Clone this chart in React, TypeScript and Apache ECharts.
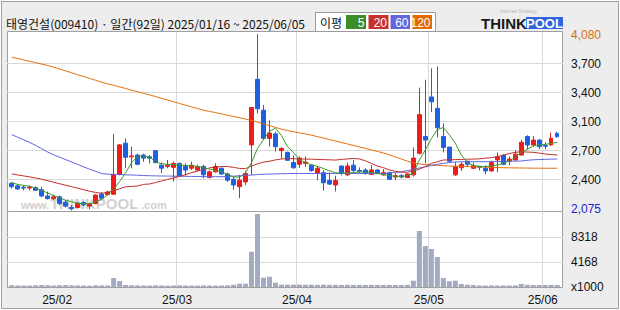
import { useEffect, useRef } from "react";
import * as echarts from "echarts";

// ---------- data ----------
const TITLE = "태영건설(009410) · 일간(92일) 2025/01/16 ~ 2025/06/05";
const LEGEND_TITLE = "이평";
const MA_PERIODS = ["5", "20", "60", "120"];
const YEAR = "2025";
const DAYS_JAN = [16, 17, 20, 21, 22, 23, 24, 31];
const DAYS_FEB = [3, 4, 5, 6, 7, 10, 11, 12, 13, 14, 17, 18, 19, 20, 21, 24, 25, 26, 27, 28];
const DAYS_MAR = [4, 5, 6, 7, 10, 11, 12, 13, 14, 17, 18, 19, 20, 21, 24, 25, 26, 27, 28, 31];
const DAYS_APR = [1, 2, 3, 4, 7, 8, 9, 10, 11, 14, 15, 16, 17, 18, 21, 22, 23, 24, 25, 28, 29, 30];
const DAYS_MAY = [2, 7, 8, 9, 12, 13, 14, 15, 16, 19, 20, 21, 22, 23, 26, 27, 28, 29, 30];
const DAYS_JUN = [2, 4, 5];

const OPEN = [
  2385, 2355, 2340, 2330, 2335, 2310, 2240, 2210, 2230, 2170,
  2110, 2110, 2165, 2125, 2155, 2260, 2255, 2260, 2485, 2840,
  2685, 2705, 2705, 2685, 2755, 2590, 2575, 2565, 2610, 2580,
  2555, 2535, 2575, 2450, 2515, 2555, 2490, 2430, 2345, 2400,
  2820, 3565, 3215, 2895, 2945, 2755, 2735, 2620, 2600, 2610,
  2590, 2505, 2505, 2415, 2365, 2580, 2480, 2590, 2530, 2535,
  2485, 2535, 2480, 2505, 2455, 2470, 2450, 2480, 2725, 2915,
  3365, 3235, 2915, 2795, 2480, 2560, 2635, 2555, 2575, 2555,
  2525, 2650, 2700, 2635, 2650, 2705, 2915, 2820, 2875, 2815,
  2820, 2950,
];
const CLOSE = [
  2345, 2320, 2330, 2340, 2305, 2240, 2210, 2230, 2155, 2125,
  2095, 2155, 2140, 2150, 2250, 2215, 2285, 2485, 2820, 2680,
  2695, 2600, 2670, 2670, 2620, 2555, 2590, 2610, 2470, 2535,
  2590, 2575, 2480, 2515, 2575, 2490, 2420, 2365, 2420, 2495,
  3245, 3230, 2895, 2955, 2800, 2780, 2645, 2560, 2670, 2625,
  2530, 2555, 2390, 2375, 2415, 2495, 2580, 2530, 2520, 2500,
  2535, 2505, 2505, 2430, 2470, 2455, 2490, 2670, 3165, 2875,
  3310, 3015, 2790, 2635, 2575, 2600, 2600, 2585, 2565, 2525,
  2620, 2685, 2600, 2660, 2715, 2850, 2820, 2875, 2800, 2805,
  2895, 2915,
];
const LOW = [
  2325, 2310, 2305, 2305, 2300, 2225, 2200, 2195, 2135, 2110,
  2075, 2100, 2125, 2090, 2145, 2195, 2250, 2255, 2475, 2560,
  2555, 2590, 2630, 2610, 2610, 2500, 2555, 2405, 2465, 2470,
  2535, 2520, 2440, 2440, 2505, 2480, 2400, 2310, 2215, 2365,
  2480, 3180, 2880, 2800, 2745, 2660, 2640, 2550, 2560, 2570,
  2515, 2420, 2300, 2365, 2290, 2475, 2465, 2510, 2500, 2480,
  2480, 2490, 2470, 2420, 2420, 2440, 2445, 2460, 2710, 2610,
  3195, 2905, 2735, 2620, 2465, 2525, 2570, 2545, 2530, 2490,
  2515, 2510, 2590, 2590, 2640, 2700, 2770, 2800, 2770, 2770,
  2810, 2900,
];
const HIGH = [
  2395, 2370, 2360, 2360, 2350, 2345, 2290, 2255, 2245, 2195,
  2135, 2170, 2180, 2160, 2260, 2285, 2300, 2945, 2830, 2895,
  2800, 2720, 2720, 2705, 2760, 2620, 2650, 2630, 2620, 2610,
  2630, 2595, 2595, 2530, 2610, 2565, 2505, 2460, 2480, 2525,
  3250, 4080, 3275, 3100, 2970, 2795, 2745, 2700, 2690, 2690,
  2600, 2580, 2535, 2510, 2470, 2585, 2620, 2650, 2565, 2555,
  2590, 2545, 2545, 2515, 2500, 2490, 2495, 2790, 3470, 3560,
  3690, 3710, 3065, 2800, 2625, 2625, 2640, 2620, 2580, 2590,
  2640, 2735, 2715, 2690, 2760, 2880, 2930, 2920, 2885, 2850,
  2960, 2970,
];
// volume, thousands of shares
const VOLUME = [
  300, 260, 250, 240, 280, 330, 290, 250, 300, 320,
  280, 260, 240, 230, 290, 260, 250, 1500, 1000, 330,
  290, 270, 260, 250, 280, 260, 240, 250, 270, 250,
  240, 230, 260, 250, 240, 260, 280, 380, 550, 550,
  5870, 12150, 1550, 1710, 715, 380, 380, 380, 400, 370,
  380, 360, 390, 370, 360, 350, 370, 360, 340, 350,
  360, 340, 330, 350, 340, 330, 360, 1050, 9320, 6820,
  6320, 4990, 1500, 950, 1050, 500, 380, 330, 260, 250,
  270, 260, 250, 260, 270, 500, 380, 330, 320, 330,
  340, 330,
];
const MA5 = [
  2393, 2371, 2360, 2350, 2330, 2302, 2274, 2245, 2218, 2192,
  2175, 2158, 2153, 2150, 2173, 2202, 2253, 2317, 2404, 2502,
  2619, 2688, 2694, 2683, 2626, 2605, 2600, 2596, 2592, 2587,
  2583, 2575, 2561, 2546, 2532, 2516, 2483, 2458, 2453, 2505,
  2620, 2780, 2880, 2975, 3010, 2925, 2800, 2735, 2654, 2617,
  2596, 2576, 2552, 2526, 2504, 2500, 2501, 2506, 2513, 2512,
  2508, 2496, 2484, 2471, 2464, 2461, 2472, 2497, 2648, 2762,
  2891, 2995, 3018, 2935, 2840, 2705, 2620, 2587, 2578, 2573,
  2583, 2592, 2614, 2636, 2682, 2736, 2769, 2810, 2819, 2826,
  2838, 2851,
];
const MA20 = [
  2491, 2479, 2468, 2457, 2445, 2430, 2413, 2396, 2379, 2362,
  2345, 2328, 2311, 2294, 2280, 2270, 2281, 2299, 2322, 2345,
  2349, 2353, 2372, 2376, 2393, 2411, 2429, 2445, 2462, 2484,
  2504, 2523, 2542, 2559, 2569, 2575, 2575, 2565, 2553, 2550,
  2580, 2605, 2625, 2635, 2650, 2660, 2665, 2664, 2661, 2659,
  2658, 2655, 2653, 2651, 2648, 2655, 2661, 2667, 2660, 2640,
  2610, 2580, 2562, 2535, 2520, 2510, 2510, 2525, 2545, 2575,
  2610, 2630, 2648, 2651, 2653, 2655, 2658, 2659, 2662, 2669,
  2676, 2687, 2705, 2722, 2736, 2743, 2739, 2736, 2727, 2717,
  2710, 2705,
];
const MA60 = [
  2937, 2907, 2878, 2848, 2815, 2777, 2739, 2707, 2680, 2653,
  2626, 2599, 2570, 2545, 2520, 2495, 2487, 2485, 2483, 2480,
  2478, 2476, 2472, 2470, 2468, 2467, 2466, 2465, 2464, 2463,
  2462, 2461, 2460, 2460, 2459, 2459, 2462, 2465, 2469, 2473,
  2478, 2483, 2487, 2489, 2491, 2493, 2494, 2495, 2495, 2495,
  2495, 2495, 2495, 2495, 2495, 2495, 2495, 2495, 2495, 2495,
  2495, 2495, 2495, 2501, 2506, 2514, 2529, 2543, 2558, 2571,
  2587, 2600, 2610, 2619, 2626, 2629, 2629, 2629, 2629, 2629,
  2629, 2631, 2633, 2635, 2636, 2637, 2645, 2651, 2654, 2656,
  2659, 2660,
];
const MA120 = [
  3817, 3801, 3786, 3770, 3754, 3738, 3722, 3703, 3682, 3661,
  3639, 3617, 3597, 3575, 3554, 3532, 3515, 3497, 3479, 3461,
  3442, 3424, 3406, 3388, 3369, 3349, 3330, 3311, 3290, 3271,
  3252, 3232, 3215, 3200, 3187, 3172, 3157, 3143, 3128, 3114,
  3098, 3079, 3058, 3039, 3019, 2999, 2983, 2970, 2957, 2945,
  2930, 2914, 2898, 2881, 2864, 2848, 2831, 2814, 2797, 2780,
  2763, 2746, 2729, 2707, 2684, 2660, 2636, 2614, 2605, 2596,
  2590, 2587, 2584, 2580, 2578, 2577, 2575, 2572, 2570, 2568,
  2566, 2563, 2561, 2560, 2559, 2558, 2557, 2556, 2556, 2555,
  2555, 2555,
];

const PRICE_TICK_LABELS = ["2,075", "2,400", "2,700", "3,100", "3,400", "3,700", "4,080"];
const PRICE_MIN = 2058;
const PRICE_MAX = 4102.7;
const VOLUME_TICK_LABELS = ["x1000", "4168", "8318", ""];
const VOLUME_STEP = 4159;
const VOLUME_MAX = 12477;

// ---------- derived ----------
const MONTHS: [string, number[]][] = [
  ["01", DAYS_JAN], ["02", DAYS_FEB], ["03", DAYS_MAR],
  ["04", DAYS_APR], ["05", DAYS_MAY], ["06", DAYS_JUN],
];
const DATES = MONTHS.flatMap(([m, ds]) => ds.map((d) => `${YEAR}/${m}/${String(d).padStart(2, "0")}`));
const MONTH_STARTS = DATES.map((d, i) => (i > 0 && d.slice(5, 7) !== DATES[i - 1].slice(5, 7) ? i : -1)).filter((i) => i >= 0);

// ---------- styles ----------
const UP = "#ee1c1c";
const DOWN = "#1f5fe2";
const MA_COLORS = ["#3f9a2a", "#c0302b", "#6262e0", "#e07010"];
const LEGEND_COLORS = ["#3c8c28", "#c8322d", "#6565dd", "#e06c00"];
const VOL_COLOR = "#a3abc3";
const GRID_LINE = "#d9d9d9";
const FRAME = "#a0a0a0";
const FONT = '"Liberation Sans", Arial, sans-serif';
const KFONT = '"Noto Sans CJK KR", "Liberation Sans", sans-serif';
const WATERMARK = "#d0d0d0";

const DATA_LEFT = 8.74;
const DATA_WIDTH = 551.5;

function hiddenAxis(gridIndex: number) {
  return { type: "value", gridIndex, show: false, min: 0, max: 1, splitLine: { show: false } };
}

function buildOption() {
  const monthLine = (idx: number) => MONTH_STARTS.includes(idx);
  const grids = [
    { left: 7.5, top: 31.5, width: 555, height: 180, show: true, backgroundColor: "#fff", borderColor: FRAME, borderWidth: 1 },
    { left: 7.5, top: 211.5, width: 555, height: 76, show: true, backgroundColor: "#fff", borderColor: FRAME, borderWidth: 1 },
    { left: 7, top: 63, width: 556, height: 116 },
    { left: 7, top: 35, width: 556, height: 174 },
    { left: DATA_LEFT, top: 32, width: DATA_WIDTH, height: 180 },
    { left: 7, top: 212, width: 556, height: 75 },
    { left: DATA_LEFT, top: 212, width: DATA_WIDTH, height: 75 },
  ];
  const catAxis = (gridIndex: number, showLabels: boolean) => ({
    type: "category",
    gridIndex,
    data: DATES,
    boundaryGap: true,
    axisLine: { show: false },
    axisTick: { show: false },
    axisLabel: showLabels
      ? {
          show: true,
          interval: (i: number) => monthLine(i),
          formatter: (v: string) => `${v.slice(2, 4)}/${v.slice(5, 7)}`,
          margin: 7,
          fontSize: 12,
          fontFamily: FONT,
          color: "#111",
          padding: [0, 5, 0, 0],
        }
      : { show: false },
    splitLine: {
      show: true,
      interval: (i: number) => monthLine(i),
      showMinLine: false,
      showMaxLine: false,
      lineStyle: { color: GRID_LINE, width: 1 },
    },
    z: 1,
  });
  const xAxis = [
    hiddenAxis(0),
    hiddenAxis(1),
    hiddenAxis(2),
    hiddenAxis(3),
    catAxis(4, false),
    hiddenAxis(5),
    catAxis(6, true),
  ];
  const yAxis = [
    hiddenAxis(0),
    hiddenAxis(1),
    {
      type: "value",
      gridIndex: 2,
      min: 0,
      max: 4,
      interval: 1,
      axisLine: { show: false },
      axisTick: { show: false },
      axisLabel: { show: false },
      splitLine: { show: true, lineStyle: { color: GRID_LINE, width: 1 } },
      z: 1,
    },
    {
      type: "value",
      gridIndex: 3,
      position: "right",
      min: 0,
      max: 6,
      interval: 1,
      axisLine: { show: false },
      axisTick: { show: false },
      splitLine: { show: false },
      axisLabel: {
        margin: 8,
        formatter: (v: number) => {
          const i = Math.round(v);
          const key = i === 6 ? "hi" : i === 0 ? "lo" : "n";
          return `{${key}|${PRICE_TICK_LABELS[i]}}`;
        },
        rich: {
          hi: { color: "#d96e14", fontSize: 12, fontFamily: FONT },
          lo: { color: "#1a22d8", fontSize: 12, fontFamily: FONT },
          n: { color: "#111", fontSize: 12, fontFamily: FONT },
        },
      },
    },
    { type: "value", gridIndex: 4, min: PRICE_MIN, max: PRICE_MAX, show: false, splitLine: { show: false } },
    {
      type: "value",
      gridIndex: 5,
      position: "right",
      min: 0,
      max: VOLUME_MAX,
      interval: VOLUME_STEP,
      axisLine: { show: false },
      axisTick: { show: false },
      splitLine: {
        show: true,
        showMinLine: false,
        showMaxLine: false,
        lineStyle: { color: GRID_LINE, width: 1 },
      },
      axisLabel: {
        margin: 8,
        fontSize: 12,
        fontFamily: FONT,
        color: "#111",
        formatter: (v: number) => VOLUME_TICK_LABELS[Math.round(v / VOLUME_STEP)] ?? "",
      },
      z: 1,
    },
    { type: "value", gridIndex: 6, min: 0, max: VOLUME_MAX, show: false, splitLine: { show: false } },
  ];

  const maSeries = [MA120, MA60, MA20, MA5].map((data, k) => {
    const colorIdx = 3 - k;
    return {
      type: "line",
      name: `MA${MA_PERIODS[colorIdx]}`,
      data,
      xAxisIndex: 4,
      yAxisIndex: 4,
      showSymbol: false,
      symbol: "none",
      silent: true,
      lineStyle: { color: MA_COLORS[colorIdx], width: 1 },
      z: 4,
    };
  });

  const legendX = [346, 368.5, 390.5, 412.5];
  const legendW = [20, 20, 19.5, 19.5];

  const graphic = [
    {
      type: "text",
      x: 6,
      y: 23,
      z: 10,
      style: { text: TITLE, fill: "#111", fontSize: 12, fontFamily: KFONT, textVerticalAlign: "middle" },
    },
    {
      type: "rect",
      z: 10,
      shape: { x: 315.5, y: 12.5, width: 120, height: 19 },
      style: { fill: "#fff", stroke: "#9a9a9a", lineWidth: 1 },
    },
    {
      type: "text",
      x: 320,
      y: 22.5,
      z: 11,
      style: { text: LEGEND_TITLE, fill: "#111", fontSize: 12, fontFamily: KFONT, textVerticalAlign: "middle" },
    },
    ...MA_PERIODS.flatMap((p, i) => [
      {
        type: "rect",
        z: 11,
        shape: { x: legendX[i], y: 15, width: legendW[i], height: 14 },
        style: { fill: LEGEND_COLORS[i] },
      },
      {
        type: "text",
        x: legendX[i] + legendW[i] - 1.5,
        y: 22.5,
        z: 12,
        style: {
          text: p,
          fill: "#fff",
          fontSize: 12,
          fontFamily: FONT,
          textAlign: "right",
          textVerticalAlign: "middle",
        },
      },
    ]),
    // THINKPOOL logo
    {
      type: "text",
      x: 500,
      y: 11,
      z: 10,
      style: { text: "Internet Strategy", fill: "#b8b8b8", fontSize: 5, fontFamily: FONT, textVerticalAlign: "middle" },
    },
    {
      type: "text",
      x: 481,
      y: 23.5,
      z: 10,
      style: {
        text: "THINK",
        fill: "#1a1a1a",
        fontSize: 15,
        fontWeight: "bold",
        fontFamily: FONT,
        textVerticalAlign: "middle",
        textShadowColor: "#9a9a9a",
        textShadowOffsetX: 1,
        textShadowOffsetY: 1,
      },
    },
    {
      type: "rect",
      z: 10,
      shape: { x: 526, y: 17, width: 37, height: 12 },
      style: { fill: "#2f66e0" },
    },
    {
      type: "text",
      x: 544.5,
      y: 23.5,
      z: 11,
      style: {
        text: "POOL",
        fill: "#fff",
        fontSize: 13,
        fontWeight: "bold",
        fontFamily: FONT,
        textAlign: "center",
        textVerticalAlign: "middle",
      },
    },
    // watermark
    {
      type: "text",
      x: 21,
      y: 205,
      z: 1,
      style: { text: "www.", fill: WATERMARK, fontSize: 11, fontWeight: "bold", fontFamily: FONT, textVerticalAlign: "middle" },
    },
    {
      type: "text",
      x: 50,
      y: 203.5,
      z: 1,
      style: { text: "THINKPOOL", fill: WATERMARK, fontSize: 15, fontWeight: "bold", fontFamily: FONT, textVerticalAlign: "middle" },
    },
    {
      type: "text",
      x: 141,
      y: 205,
      z: 1,
      style: { text: ".com", fill: WATERMARK, fontSize: 11, fontWeight: "bold", fontFamily: FONT, textVerticalAlign: "middle" },
    },
  ];

  return {
    animation: false,
    backgroundColor: "transparent",
    textStyle: { fontFamily: FONT },
    grid: grids,
    xAxis,
    yAxis,
    graphic,
    series: [
      {
        type: "bar",
        data: VOLUME,
        xAxisIndex: 6,
        yAxisIndex: 6,
        barWidth: 5,
        silent: true,
        itemStyle: { color: VOL_COLOR },
        z: 2,
      },
      {
        type: "candlestick",
        data: DATES.map((_, i) => [OPEN[i], CLOSE[i], LOW[i], HIGH[i]]),
        xAxisIndex: 4,
        yAxisIndex: 4,
        barWidth: 4,
        silent: true,
        itemStyle: { color: UP, color0: DOWN, borderColor: UP, borderColor0: DOWN, borderWidth: 1 },
        z: 3,
      },
      ...maSeries,
    ],
  };
}

export default function App() {
  const ref = useRef<HTMLDivElement>(null);
  useEffect(() => {
    if (!ref.current) return;
    const chart = echarts.init(ref.current, undefined, { renderer: "svg" });
    chart.setOption(buildOption() as any);
    return () => chart.dispose();
  }, []);
  return (
    <div style={{ position: "fixed", left: 0, top: 0, width: 620, height: 310, background: "#fff" }}>
      <div
        style={{
          position: "absolute",
          left: 1,
          top: 1,
          width: 618,
          height: 308,
          boxSizing: "border-box",
          border: "1px solid #a0a0a0",
          background: "#ededed",
        }}
      />
      <div ref={ref} style={{ position: "absolute", left: 0, top: 0, width: 620, height: 310 }} />
    </div>
  );
}
